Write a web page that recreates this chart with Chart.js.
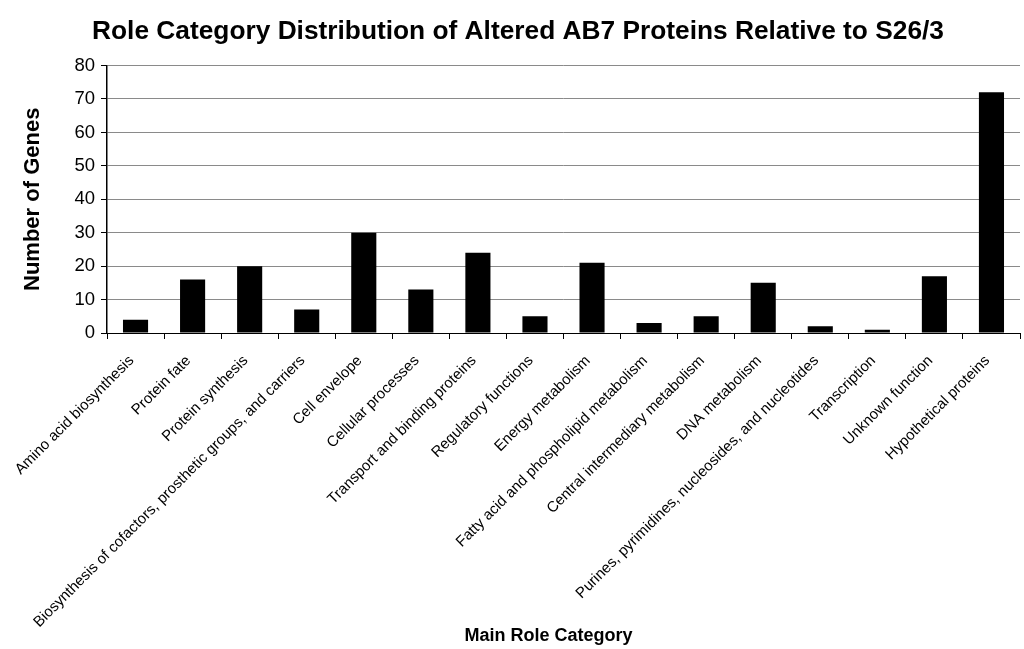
<!DOCTYPE html>
<html>
<head>
<meta charset="utf-8">
<script src="https://cdn.jsdelivr.net/npm/chart.js@4"></script>
<style>
  html, body { margin: 0; padding: 0; background: #fff; }
  #wrap { width: 1024px; height: 649px; }
</style>
</head>
<body>
<div id="wrap"><canvas id="roleChart" width="1024" height="649"></canvas></div>
<script>
// ===== Data =====
const categories = [
  'Amino acid biosynthesis',
  'Protein fate',
  'Protein synthesis',
  'Biosynthesis of cofactors, prosthetic groups, and carriers',
  'Cell envelope',
  'Cellular processes',
  'Transport and binding proteins',
  'Regulatory functions',
  'Energy metabolism',
  'Fatty acid and phospholipid metabolism',
  'Central intermediary metabolism',
  'DNA metabolism',
  'Purines, pyrimidines, nucleosides, and nucleotides',
  'Transcription',
  'Unknown function',
  'Hypothetical proteins'
];
const geneCounts = [4, 16, 20, 7, 30, 13, 24, 5, 21, 3, 5, 15, 2, 1, 17, 72];
const yTicks = [0, 10, 20, 30, 40, 50, 60, 70, 80];

const FONT = 'Arial, "Liberation Sans", sans-serif';

// ===== Chart =====
new Chart(document.getElementById('roleChart'), {
  type: 'bar',
  data: {
    labels: categories,
    datasets: [{
      label: 'Number of Genes',
      data: geneCounts,
      backgroundColor: '#000',
      borderWidth: 0,
      barPercentage: 0.44,
      categoryPercentage: 1.0
    }]
  },
  options: {
    responsive: false,
    animation: false,
    // left padding nudges the title right; y width below compensates
    layout: { padding: { left: 16, right: 4, top: 0, bottom: 0 } },
    plugins: {
      legend: { display: false },
      tooltip: { enabled: false },
      title: {
        display: true,
        text: 'Role Category Distribution of Altered AB7 Proteins Relative to S26/3',
        color: '#000',
        font: { family: FONT, size: 26.3, weight: 'bold' },
        padding: { top: 16, bottom: 18 }
      }
    },
    scales: {
      x: {
        afterFit: axis => { axis.height = 316; },
        grid: { display: true, offset: true, drawOnChartArea: false, color: '#000', tickLength: 6 },
        border: { color: '#000', width: 1 },
        ticks: {
          color: '#000',
          autoSkip: false,
          minRotation: 45,
          maxRotation: 45,
          padding: 13,
          labelOffset: -4,
          font: { family: FONT, size: 15 }
        },
        title: {
          display: true,
          text: 'Main Role Category      ',
          color: '#000',
          font: { family: FONT, size: 18, weight: 'bold' },
          padding: { top: 0, bottom: 2 }
        }
      },
      y: {
        min: 0,
        max: 80,
        afterFit: axis => { axis.width = 91; },
        afterBuildTicks: axis => { axis.ticks = yTicks.map(v => ({ value: v })); },
        grid: { color: '#8a8a8a', lineWidth: 1, tickLength: 6, tickColor: '#000' },
        border: { color: '#000', width: 1.5 },
        ticks: {
          color: '#000',
          padding: 6,
          font: { family: FONT, size: 18.5 }
        },
        title: {
          display: true,
          text: 'Number of Genes',
          color: '#000',
          font: { family: FONT, size: 22, weight: 'bold' },
          padding: { top: 4, bottom: 0 }
        }
      }
    }
  }
});
</script>
</body>
</html>
